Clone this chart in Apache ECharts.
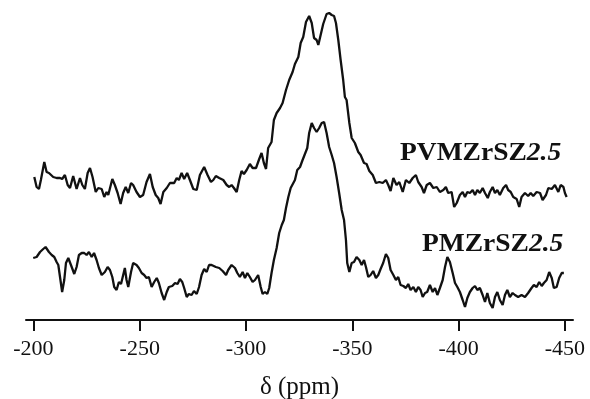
<!DOCTYPE html>
<html>
<head>
<meta charset="utf-8">
<script src="https://cdn.jsdelivr.net/npm/echarts@6/dist/echarts.min.js"></script>
<style>
  html, body { margin: 0; padding: 0; background: #fff; }
  #chart { width: 590px; height: 399px; }
</style>
</head>
<body>
<div id="chart"></div>
<script>
// Chemical shift axis ticks (ppm)
const tickValues = [-200, -250, -300, -350, -400, -450];

// PVMZrSZ2.5 spectrum: chemical shift (ppm) and intensity (a.u., offset trace)
const pvmShift = [-200.4,-201.5,-202.6,-203.5,-205.1,-206.2,-207.3,-208.2,-209.3,-210.9,-212.5,-213.5,-214.8,-216.1,-217.2,-218.7,-220.3,-221.9,-223.0,-224.2,-225.5,-226.6,-227.8,-229.3,-230.5,-232.1,-233.3,-234.4,-235.2,-237.1,-238.3,-239.6,-241.0,-242.2,-243.4,-244.6,-245.9,-246.9,-248.5,-250.1,-251.6,-253.2,-254.8,-256.1,-257.5,-258.7,-259.8,-261.1,-262.7,-264.2,-266.2,-267.4,-268.4,-269.7,-270.9,-272.3,-273.6,-275.2,-276.8,-278.3,-280.3,-281.9,-283.5,-284.6,-285.8,-287.4,-289.3,-290.9,-292.1,-293.2,-294.3,-295.6,-296.8,-297.9,-299.0,-300.3,-301.8,-303.1,-304.7,-306.2,-307.3,-308.4,-309.4,-310.4,-312.0,-313.1,-314.4,-316.0,-317.2,-318.8,-320.3,-321.9,-323.0,-324.6,-325.7,-326.9,-328.2,-329.7,-330.9,-332.0,-333.2,-334.0,-335.1,-336.3,-337.9,-339.1,-340.3,-341.4,-342.3,-343.4,-344.5,-345.7,-346.5,-347.3,-348.6,-349.7,-351.2,-352.8,-353.9,-355.5,-356.7,-358.0,-359.6,-361.1,-362.7,-364.3,-365.8,-366.9,-368.0,-369.3,-370.8,-372.1,-373.7,-375.2,-376.8,-378.4,-379.9,-381.0,-382.6,-383.7,-385.0,-386.5,-388.1,-389.7,-391.2,-392.8,-394.0,-395.1,-396.7,-397.9,-399.1,-400.6,-401.9,-403.0,-404.1,-405.3,-406.6,-407.7,-408.8,-410.0,-411.3,-412.4,-413.7,-414.7,-416.0,-417.1,-418.2,-419.4,-421.0,-422.3,-423.3,-424.5,-425.7,-427.3,-428.5,-429.6,-431.2,-432.7,-433.9,-435.1,-436.7,-438.3,-439.5,-441.1,-442.2,-443.8,-445.3,-446.9,-448.0,-449.3,-450.0,-450.8];
const pvmIntensity = [143,133,131,140,158,148,147,148,143,142,142,141,145,135,132,144,131,142,135,131,147,152,143,128,132,131,123,128,125,141,135,127,116,127,133,127,137,135,128,123,125,138,146,133,125,122,116,128,132,137,137,142,140,147,141,147,140,131,130,145,153,145,138,140,144,142,140,135,133,135,132,128,140,149,146,150,156,152,152,161,167,157,151,172,178,200,207,212,217,230,240,248,256,263,277,283,298,304,297,282,280,275,285,296,306,307,305,304,297,280,260,240,223,220,197,182,177,168,165,157,156,149,145,137,138,137,140,135,129,142,135,138,128,140,137,142,145,138,133,127,135,137,132,133,128,130,133,127,128,113,117,125,128,123,128,127,130,125,130,127,132,127,122,128,133,127,130,125,132,135,130,128,123,121,113,123,127,124,127,124,128,127,120,125,132,131,135,128,135,133,127,123];

// PMZrSZ2.5 spectrum: chemical shift (ppm) and intensity (a.u.)
const pmShift = [-199.9,-201.5,-203.1,-204.6,-205.7,-207.3,-208.6,-209.8,-210.9,-211.7,-212.5,-213.5,-214.5,-215.3,-216.4,-217.2,-218.0,-219.2,-220.3,-221.4,-222.7,-223.9,-225.0,-226.1,-227.4,-228.5,-229.7,-230.8,-232.1,-233.6,-234.9,-236.0,-237.1,-238.0,-239.1,-240.2,-241.2,-241.8,-243.0,-243.8,-244.6,-245.9,-246.9,-248.5,-249.6,-250.9,-252.1,-253.2,-254.3,-255.6,-256.8,-258.0,-259.0,-260.3,-261.5,-262.7,-263.7,-265.3,-266.6,-267.8,-268.9,-270.0,-270.9,-272.1,-273.1,-274.4,-275.5,-276.8,-277.9,-279.1,-280.3,-281.5,-282.6,-283.8,-284.6,-285.8,-287.4,-289.0,-290.6,-291.6,-293.2,-294.8,-295.9,-297.1,-298.4,-299.5,-300.6,-301.8,-303.1,-304.2,-305.7,-306.9,-307.8,-308.9,-310.0,-310.9,-312.0,-313.1,-314.4,-315.6,-316.8,-317.8,-318.8,-319.9,-321.0,-321.9,-323.0,-324.1,-325.4,-326.6,-327.7,-328.8,-329.7,-330.9,-332.0,-333.2,-334.4,-335.6,-336.7,-337.9,-339.1,-340.3,-341.4,-342.6,-343.8,-345.0,-346.1,-347.0,-347.6,-348.6,-349.7,-350.8,-352.0,-353.3,-354.4,-355.5,-356.4,-357.5,-358.6,-359.8,-361.1,-362.2,-363.3,-364.5,-365.8,-366.9,-368.0,-369.3,-370.5,-371.6,-372.7,-374.0,-375.2,-376.3,-377.4,-378.7,-379.9,-381.0,-382.1,-383.1,-384.2,-385.2,-386.5,-387.8,-388.9,-390.0,-391.2,-392.5,-393.6,-394.7,-395.9,-397.2,-398.3,-399.4,-400.6,-401.9,-403.0,-404.1,-405.3,-406.6,-407.7,-408.8,-410.0,-411.3,-412.4,-413.5,-414.7,-416.0,-417.1,-418.2,-419.4,-420.7,-421.8,-422.9,-424.1,-425.4,-426.5,-428.0,-429.6,-431.2,-432.7,-434.3,-435.4,-436.7,-437.9,-439.1,-440.1,-441.4,-442.6,-443.8,-444.8,-446.1,-447.3,-448.5,-449.5];
const pmIntensity = [62,63,68,71,73,68,65,63,58,55,43,28,40,57,62,63,53,46,53,65,67,67,65,68,63,67,60,52,45,48,53,50,43,33,30,38,36,38,52,40,33,48,57,55,52,47,45,42,43,33,38,42,37,27,20,28,33,34,37,36,41,38,32,23,26,25,29,26,33,45,51,48,55,55,55,53,52,49,45,50,55,52,47,43,48,42,47,43,38,40,45,33,26,28,26,32,47,60,72,87,95,100,112,123,132,131,140,150,153,160,166,172,187,197,192,188,192,197,198,187,173,165,157,143,127,110,100,80,57,48,57,58,63,60,55,60,53,43,45,49,42,45,51,57,66,62,50,45,40,43,35,34,32,36,30,33,28,33,30,23,27,28,35,28,32,25,32,40,53,63,58,47,37,33,28,20,13,22,28,32,34,30,32,25,18,27,17,12,23,28,20,15,25,30,23,27,25,23,25,23,27,32,35,33,38,34,37,40,48,42,32,33,42,47,47];

// Trace captions
const captions = [
  { base: 'PVMZrSZ', num: '2.5' },
  { base: 'PMZrSZ', num: '2.5' }
];

const axisName = 'δ (ppm)';

const toPairs = (xs, ys) => xs.map((x, i) => [x, ys[i]]);

const chart = echarts.init(document.getElementById('chart'), null, { renderer: 'canvas' });

const serif = '"Liberation Serif", "Times New Roman", serif';
const ink = '#111';

const captionRich = {
  b: { fontFamily: serif, fontSize: 25, fontWeight: 'bold', color: ink },
  i: { fontFamily: serif, fontSize: 25, fontStyle: 'italic', fontWeight: 'bold', color: '#222' }
};

chart.setOption({
  animation: false,
  backgroundColor: '#fff',
  // fixed plot box; the axis name is allowed to sit close to the bottom edge
  grid: { left: 26, right: 17, top: 0, bottom: 79, outerBoundsMode: 'none', containLabel: false },
  xAxis: {
    type: 'value',
    inverse: true,
    min: -453.8,
    max: -196.5,
    name: axisName,
    nameLocation: 'middle',
    nameGap: 55,
    nameTextStyle: { fontFamily: serif, fontSize: 25, color: ink },
    axisLine: { show: true, lineStyle: { color: ink, width: 2 } },
    axisTick: { show: true, length: 11, customValues: tickValues, lineStyle: { color: ink, width: 2 } },
    axisLabel: { customValues: tickValues, margin: 18, fontFamily: serif, fontSize: 22, color: ink },
    splitLine: { show: false }
  },
  yAxis: {
    type: 'value',
    min: 0,
    max: 320,
    show: false
  },
  graphic: [
    {
      type: 'text', x: 400, y: 154, scaleX: 1.1,
      style: { text: `{b|${captions[0].base}}{i|${captions[0].num}}`, rich: captionRich, verticalAlign: 'middle', fill: ink }
    },
    {
      type: 'text', x: 422, y: 244.5, scaleX: 1.1,
      style: { text: `{b|${captions[1].base}}{i|${captions[1].num}}`, rich: captionRich, verticalAlign: 'middle', fill: ink }
    }
  ],
  series: [
    {
      name: captions[0].base + captions[0].num,
      type: 'line',
      data: toPairs(pvmShift, pvmIntensity),
      showSymbol: false,
      lineStyle: { color: ink, width: 2.3 },
      z: 3
    },
    {
      name: captions[1].base + captions[1].num,
      type: 'line',
      data: toPairs(pmShift, pmIntensity),
      showSymbol: false,
      lineStyle: { color: ink, width: 2.3 },
      z: 3
    }
  ]
});
</script>
</body>
</html>
